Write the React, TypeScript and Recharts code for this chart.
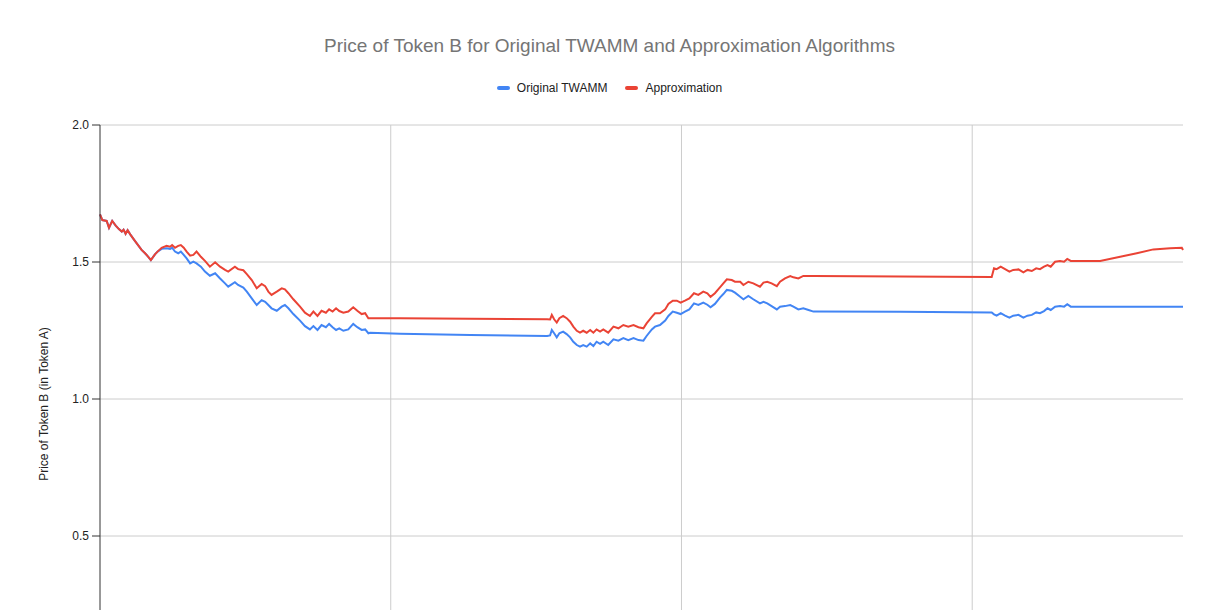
import React from 'react';
import { LineChart, Line, XAxis, YAxis, CartesianGrid, Label } from 'recharts';

const steps = [
    0, 0.8, 2.3, 3.1, 4.2, 5.4, 6.5, 7.5, 8.1, 8.8, 9.5, 10.4, 12.0, 14.3, 15.5, 16.6, 17.5, 18.9, 19.8,
    21.2, 22.9, 24.1, 24.8, 25.8, 26.9, 27.8, 28.8, 29.8, 31.0, 32.1, 33.2, 34.7, 36.1, 37.8, 39.6, 41.3,
    43.0, 44.1, 46.4, 47.5, 49.3, 50.5, 52.2, 53.9, 55.6, 56.8, 57.9, 59.0, 60.8, 62.5, 63.6, 64.8, 66.5,
    68.8, 70.5, 72.2, 73.4, 74.8, 76.2, 77.7, 78.8, 80.0, 81.2, 82.3, 83.7, 85.4, 87.1, 88.5, 90.0, 91.2,
    92.3, 92.9, 103.2, 127.3, 153.8, 154.8, 155.4, 156.2, 157.1, 158.0, 159.3, 160.5, 161.7, 162.8, 164.0,
    165.1, 166.2, 167.4, 168.6, 169.7, 170.8, 172.0, 173.1, 174.8, 176.6, 178.3, 180.0, 181.7, 183.5, 185.2,
    186.9, 188.0, 189.8, 190.9, 192.6, 194.4, 195.5, 197.0, 198.4, 199.7, 201.2, 202.7, 204.3, 205.8, 207.5,
    208.9, 210.0, 211.5, 213.3, 214.4, 215.6, 217.3, 218.4, 220.2, 221.3, 223.0, 224.7, 227.0, 228.2, 229.5,
    231.0, 232.8, 233.9, 235.6, 237.4, 238.5, 240.2, 241.9, 243.7, 245.4, 275.2, 306.7, 307.5, 308.4, 309.8,
    311.3, 312.8, 314.1, 315.9, 317.6, 319.0, 320.5, 322.0, 323.3, 324.7, 325.9, 327.0, 328.5, 330.2, 331.6,
    332.7, 333.9, 334.8, 344.0, 350.9, 356.6, 362.3, 368.1, 372.1, 372.5,
];

const originalTwamm = [
    1.674, 1.653, 1.650, 1.625, 1.650, 1.633, 1.620, 1.611, 1.618, 1.603, 1.616, 1.601, 1.577, 1.544, 1.532, 1.519, 1.507, 1.528, 1.538,
    1.548, 1.550, 1.548, 1.552, 1.538, 1.532, 1.538, 1.526, 1.513, 1.495, 1.501, 1.495, 1.483, 1.465, 1.450, 1.459, 1.440,
    1.422, 1.410, 1.426, 1.416, 1.407, 1.392, 1.367, 1.343, 1.361, 1.355, 1.343, 1.331, 1.322, 1.337, 1.343, 1.331, 1.310,
    1.286, 1.266, 1.254, 1.266, 1.252, 1.270, 1.262, 1.274, 1.262, 1.252, 1.258, 1.249, 1.254, 1.274, 1.262, 1.252, 1.254,
    1.240, 1.242, 1.238, 1.234, 1.230, 1.232, 1.252, 1.240, 1.225, 1.240, 1.246, 1.237, 1.225, 1.209, 1.197,
    1.191, 1.197, 1.191, 1.203, 1.193, 1.209, 1.201, 1.209, 1.197, 1.218, 1.213, 1.222, 1.215, 1.222, 1.215,
    1.213, 1.230, 1.254, 1.264, 1.270, 1.286, 1.303, 1.319, 1.315, 1.310, 1.319, 1.327, 1.349, 1.343, 1.352,
    1.344, 1.335, 1.347, 1.371, 1.383, 1.398, 1.395, 1.388, 1.373, 1.364, 1.376, 1.364, 1.349, 1.355, 1.349,
    1.339, 1.327, 1.337, 1.339, 1.343, 1.337, 1.327, 1.331, 1.325, 1.319, 1.318, 1.316, 1.309, 1.304, 1.313,
    1.304, 1.297, 1.304, 1.307, 1.297, 1.304, 1.307, 1.316, 1.313, 1.321, 1.331, 1.325, 1.337, 1.339, 1.337,
    1.346, 1.337, 1.337, 1.337, 1.337, 1.337, 1.337, 1.337, 1.337, 1.337,
];

const approximation = [
    1.674, 1.653, 1.650, 1.625, 1.650, 1.633, 1.620, 1.611, 1.618, 1.603, 1.616, 1.601, 1.577, 1.544, 1.532, 1.519, 1.507, 1.528, 1.538,
    1.552, 1.559, 1.556, 1.562, 1.552, 1.559, 1.562, 1.552, 1.538, 1.523, 1.526, 1.538, 1.519, 1.504, 1.483, 1.499, 1.483,
    1.471, 1.465, 1.483, 1.474, 1.470, 1.456, 1.434, 1.404, 1.420, 1.412, 1.392, 1.380, 1.392, 1.404, 1.400, 1.386, 1.364,
    1.337, 1.315, 1.303, 1.319, 1.303, 1.322, 1.315, 1.327, 1.319, 1.331, 1.321, 1.315, 1.319, 1.335, 1.322, 1.310, 1.313,
    1.295, 1.295, 1.295, 1.293, 1.291, 1.290, 1.307, 1.291, 1.279, 1.295, 1.303, 1.295, 1.282, 1.264, 1.249,
    1.242, 1.249, 1.242, 1.252, 1.242, 1.254, 1.246, 1.254, 1.242, 1.264, 1.258, 1.270, 1.264, 1.270, 1.262,
    1.258, 1.276, 1.300, 1.313, 1.313, 1.327, 1.347, 1.359, 1.359, 1.352, 1.359, 1.367, 1.386, 1.380, 1.392,
    1.386, 1.373, 1.386, 1.408, 1.422, 1.437, 1.434, 1.428, 1.428, 1.416, 1.428, 1.422, 1.410, 1.425, 1.428,
    1.422, 1.412, 1.428, 1.440, 1.449, 1.444, 1.440, 1.449, 1.449, 1.449, 1.447, 1.445, 1.477, 1.474, 1.483,
    1.474, 1.465, 1.471, 1.473, 1.462, 1.471, 1.467, 1.477, 1.474, 1.483, 1.489, 1.483, 1.501, 1.504, 1.501,
    1.511, 1.504, 1.504, 1.504, 1.519, 1.532, 1.546, 1.550, 1.552, 1.544,
];

const X_MAX = 372.5;
const xTicks = [0, 100, 200, 300];
const yTicks = [0.5, 1.0, 1.5, 2.0];

const seriesInfo = [
    { key: 'twamm', name: 'Original TWAMM', color: '#4285F4' },
    { key: 'approx', name: 'Approximation', color: '#EA4335' },
];

const data = steps.map((s, i) => ({
    step: s,
    twamm: originalTwamm[i],
    approx: approximation[i],
}));

const FONT = '"Liberation Sans", Arial, sans-serif';

function LegendBox() {
    return (
        <div
            style={{
                position: 'absolute', top: 73, left: 0, width: 1203, zIndex: 1,
                display: 'flex', justifyContent: 'center', fontFamily: FONT, fontSize: 12, color: '#222',
            }}
        >
            {seriesInfo.map((s) => (
                <div key={s.key} style={{ display: 'flex', alignItems: 'center', margin: '0 9px' }}>
                    <span style={{ display: 'inline-block', width: 13, height: 4, borderRadius: 2, background: s.color, marginRight: 7 }} />
                    <span>{s.name}</span>
                </div>
            ))}
        </div>
    );
}

// vertical grid only at the inner x ticks (no line on the right edge)
const verticalGrid = ({ offset }: any) =>
    xTicks.slice(1).map((t) => offset.left + (t / X_MAX) * offset.width);

export default function App() {
    return (
        <div style={{ position: 'relative', width: 1203, height: 602, overflow: 'hidden', fontFamily: FONT }}>
            <div style={{ position: 'absolute', top: 27, left: 0, width: 1203, textAlign: 'center', fontSize: 19, color: '#757575', zIndex: 1 }}>
                Price of Token B for Original TWAMM and Approximation Algorithms
            </div>
            <LegendBox />
            <LineChart width={1203} height={700} data={data} margin={{ top: 117, right: 28, bottom: 5, left: 0 }}>
                <CartesianGrid stroke="#cccccc" strokeWidth={1} verticalCoordinatesGenerator={verticalGrid} />
                <XAxis
                    dataKey="step"
                    type="number"
                    domain={[0, X_MAX]}
                    ticks={xTicks}
                    height={30}
                    tick={false}
                    axisLine={{ stroke: '#333' }}
                    tickLine={false}
                />
                <YAxis
                    type="number"
                    domain={[0, 2]}
                    ticks={yTicks}
                    width={92}
                    tickSize={8}
                    tickMargin={3}
                    tickFormatter={(v: number) => v.toFixed(1)}
                    tick={{ fontSize: 12, fill: '#222', fontFamily: FONT }}
                    axisLine={{ stroke: '#333' }}
                    tickLine={{ stroke: '#333' }}
                >
                    <Label
                        content={() => (
                            <text
                                x={36}
                                y={396}
                                transform="rotate(-90 36 396)"
                                textAnchor="middle"
                                dominantBaseline="central"
                                fontSize={12}
                                fill="#222"
                                fontFamily={FONT}
                            >
                                Price of Token B (in Token A)
                            </text>
                        )}
                    />
                </YAxis>
                {seriesInfo.map((s) => (
                    <Line
                        key={s.key}
                        type="linear"
                        dataKey={s.key}
                        name={s.name}
                        stroke={s.color}
                        strokeWidth={2}
                        dot={false}
                        activeDot={false}
                        isAnimationActive={false}
                    />
                ))}
            </LineChart>
        </div>
    );
}
